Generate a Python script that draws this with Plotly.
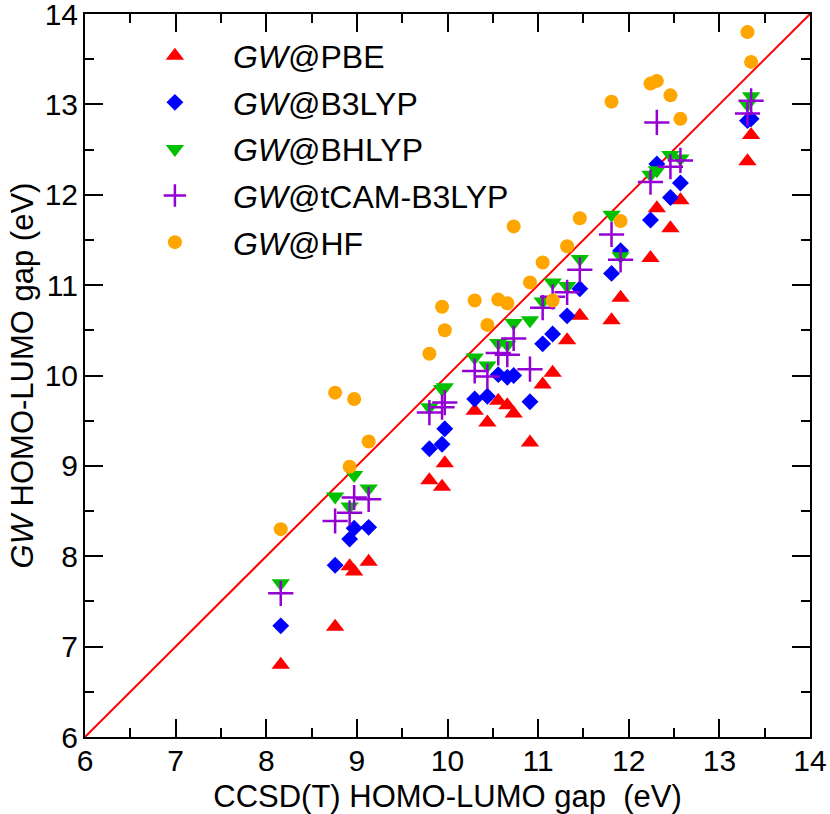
import plotly.graph_objects as go

# CCSD(T) reference gaps (x), one per molecule
ccsdt = [8.16, 8.76, 8.92, 8.97, 9.13, 9.80, 9.94, 9.97, 10.30, 10.44, 10.56, 10.66, 10.73,
         10.91, 11.05, 11.16, 11.32, 11.46, 11.81, 11.91, 12.24, 12.31, 12.46, 12.57, 13.31, 13.35]

gw_pbe = [6.80, 7.22, 7.89, 7.83, 7.94, 8.84, 8.77, 9.03, 9.61, 9.48, 9.72, 9.67, 9.58,
          9.26, 9.90, 10.03, 10.39, 10.66, 10.61, 10.86, 11.30, 11.85, 11.63, 11.94, 12.37, 12.66]
gw_b3lyp = [7.23, 7.90, 8.19, 8.31, 8.32, 9.19, 9.24, 9.41, 9.74, 9.77, 10.01, 9.98, 10.00,
            9.71, 10.35, 10.46, 10.66, 10.96, 11.13, 11.38, 11.72, 12.34, 11.97, 12.13, 12.82, 12.84]
gw_bhlyp = [7.70, 8.66, 8.55, 8.90, 8.75, 9.65, 9.85, 9.87, 10.20, 10.11, 10.36, 10.34, 10.58,
            10.61, 10.82, 11.03, 10.99, 11.29, 11.78, 11.32, 12.22, 12.27, 12.44, 12.40, 13.00, 13.09]
gw_tcam = [7.59, 8.39, 8.48, 8.65, 8.63, 9.59, 9.65, 9.70, 10.05, 9.99, 10.25, 10.23, 10.41,
           10.07, 10.75, 10.87, 10.92, 11.17, 11.56, 11.28, 12.14, 12.80, 12.31, 12.38, 12.90, 13.04]
gw_hf = [8.30, 9.81, 8.99, 9.74, 9.27, 10.24, 10.76, 10.50, 10.83, 10.56, 10.84, 10.80, 11.65,
         11.03, 11.25, 10.83, 11.43, 11.74, 13.03, 11.71, 13.23, 13.26, 13.10, 12.84, 13.80, 13.47]

diag = [6, 14]
tick_vals = [6, 7, 8, 9, 10, 11, 12, 13, 14]

series = [
    ("<i>GW</i>@PBE", gw_pbe, "triangle-up", "#ff0000", 16),
    ("<i>GW</i>@B3LYP", gw_b3lyp, "diamond", "#0000ff", 13),
    ("<i>GW</i>@BHLYP", gw_bhlyp, "triangle-down", "#00c000", 16),
    ("<i>GW</i>@tCAM-B3LYP", gw_tcam, "cross-thin", "#9400d3", 18),
    ("<i>GW</i>@HF", gw_hf, "circle", "#ffa500", 14),
]

fig = go.Figure()
fig.add_trace(go.Scatter(x=diag, y=diag, mode="lines", line=dict(color="#ff0000", width=2),
                         showlegend=False, hoverinfo="skip"))

for i, (name, vals, sym, col, sz) in enumerate(series):
    if sym == "cross-thin":
        marker = dict(symbol=sym, size=sz, color=col, line=dict(color=col, width=2.5))
    else:
        marker = dict(symbol=sym, size=sz, color=col, line=dict(width=0))
    fig.add_trace(go.Scatter(x=ccsdt, y=vals, mode="markers", name=name, marker=marker,
                             legendgroup=f"g{i}"))

font_family = "Liberation Sans, Arial, sans-serif"
axis_common = dict(
    range=[6, 14], tickvals=tick_vals, ticks="inside", ticklen=18, tickwidth=2,
    tickcolor="black", showline=True, linecolor="black", linewidth=2, mirror="allticks",
    showgrid=False, zeroline=False, automargin=False, ticklabeloverflow="allow",
    tickfont=dict(size=30, color="black", family=font_family),
    minor=dict(dtick=0.5, ticks="inside", ticklen=9, tickwidth=2, tickcolor="black", showgrid=False),
)

fig.update_layout(
    width=830, height=814,
    margin=dict(l=85, r=20, t=14, b=77),
    plot_bgcolor="white", paper_bgcolor="white",
    font=dict(family=font_family, color="black"),
    xaxis=dict(**axis_common, ticklabelstandoff=-4,
               title=dict(text="CCSD(T) HOMO-LUMO gap\u00a0\u00a0(eV)", font=dict(size=31), standoff=12)),
    yaxis=dict(**axis_common, ticklabelstandoff=-1,
               title=dict(text="<i>GW</i> HOMO-LUMO gap (eV)", font=dict(size=31), standoff=2)),
    legend=dict(x=0.044, y=0.980, xanchor="left", yanchor="top", bgcolor="rgba(0,0,0,0)",
                font=dict(size=32), tracegroupgap=2, itemwidth=106),
    showlegend=True,
)

fig.write_html("out.html", post_script="document.body.style.margin='0';",
               config={"displayModeBar": False})
